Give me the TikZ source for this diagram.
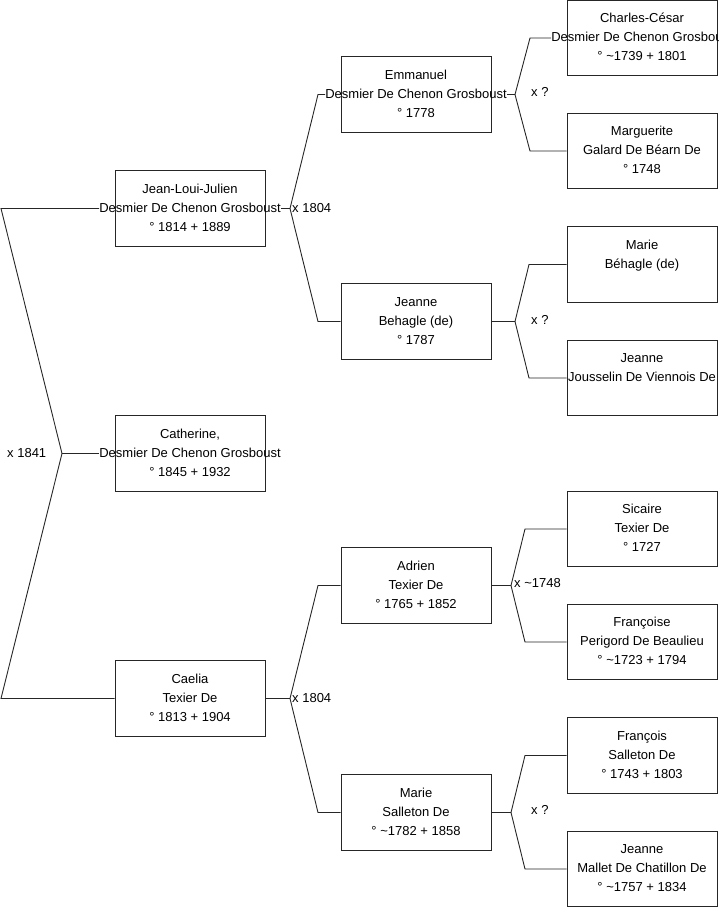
\documentclass[tikz,border=0pt]{standalone}
\usepackage{fontspec}
\setmainfont{Liberation Sans}
\begin{document}
\begin{tikzpicture}[x=1pt,y=-1pt,
  pbox/.style={draw=black!85,line width=0.9pt,minimum width=150pt,minimum height=75.5pt,inner sep=0pt},
  ptxt/.style={inner sep=0pt,align=center,font=\fontsize{13}{19}\selectfont},
  lbl/.style={inner sep=0pt,anchor=west,font=\fontsize{13}{16}\selectfont},
  conn/.style={draw=black!85,line width=0.9pt}]
\useasboundingbox (0,0) rectangle (719,908);
\clip (0,0) rectangle (719,908);
\newcommand{\pl}[3]{\strut #1\\\strut #2\\\strut #3}
% generation 1
\node[pbox] (jean) at (190,208.5) {};
\node[ptxt] (jean-t) at (jean) {\pl{Jean-Loui-Julien}{Desmier De Chenon Grosboust}{° 1814 + 1889}};
\node[pbox] (cath) at (190,453.5) {};
\node[ptxt] (cath-t) at (cath) {\pl{Catherine,}{Desmier De Chenon Grosboust}{° 1845 + 1932}};
\node[pbox] (cael) at (190,698.5) {};
\node[ptxt] (cael-t) at (cael) {\pl{Caelia}{Texier De}{° 1813 + 1904}};
% generation 2
\node[pbox] (emm) at (416,94.5) {};
\node[ptxt] (emm-t) at (emm) {\pl{Emmanuel}{Desmier De Chenon Grosboust}{° 1778}};
\node[pbox] (jea) at (416,321.5) {};
\node[ptxt] (jea-t) at (jea) {\pl{Jeanne}{Behagle (de)}{° 1787}};
\node[pbox] (adr) at (416,585.5) {};
\node[ptxt] (adr-t) at (adr) {\pl{Adrien}{Texier De}{° 1765 + 1852}};
\node[pbox] (mar) at (416,812.5) {};
\node[ptxt] (mar-t) at (mar) {\pl{Marie}{Salleton De}{° \textasciitilde1782 + 1858}};
% generation 3
\node[pbox] (cc) at (642,38) {};
\node[ptxt] (cc-t) at (cc) {\pl{Charles-César}{Desmier De Chenon Grosboust}{° \textasciitilde1739 + 1801}};
\node[pbox] (mg) at (642,151) {};
\node[ptxt] (mg-t) at (mg) {\pl{Marguerite}{Galard De Béarn De}{° 1748}};
\node[pbox] (mb) at (642,264.5) {};
\node[ptxt] (mb-t) at (mb) {\pl{Marie}{Béhagle (de)}{}};
\node[pbox] (jj) at (642,378) {};
\node[ptxt] (jj-t) at (jj) {\pl{Jeanne}{Jousselin De Viennois De}{}};
\node[pbox] (sic) at (642,529) {};
\node[ptxt] (sic-t) at (sic) {\pl{Sicaire}{Texier De}{° 1727}};
\node[pbox] (fre) at (642,642) {};
\node[ptxt] (fre-t) at (fre) {\pl{Françoise}{Perigord De Beaulieu}{° \textasciitilde1723 + 1794}};
\node[pbox] (fro) at (642,755.5) {};
\node[ptxt] (fro-t) at (fro) {\pl{François}{Salleton De}{° 1743 + 1803}};
\node[pbox] (jm) at (642,869) {};
\node[ptxt] (jm-t) at (jm) {\pl{Jeanne}{Mallet De Chatillon De}{° \textasciitilde1757 + 1834}};
% fork coordinates
\coordinate (f0t) at (1,208.5);
\coordinate (f0v) at (62,453.5);
\coordinate (f0b) at (1,698.5);
\coordinate (f1v) at (290,208.5);
\coordinate (f1t) at (318,94.5);
\coordinate (f1b) at (318,321.5);
\coordinate (f2v) at (290,698.5);
\coordinate (f2t) at (318,585.5);
\coordinate (f2b) at (318,812.5);
\coordinate (f3v) at (515,94.5);
\coordinate (f3t) at (530,38);
\coordinate (f3b) at (530,151);
\coordinate (f4v) at (515,321.5);
\coordinate (f4t) at (529,264.5);
\coordinate (f4b) at (529,378);
\coordinate (f5v) at (511,585.5);
\coordinate (f5t) at (525,529);
\coordinate (f5b) at (525,642);
\coordinate (f6v) at (511,812.5);
\coordinate (f6t) at (525,755.5);
\coordinate (f6b) at (525,869);
% connectors
\draw[conn] (jean-t.west) -- (f0t) -- (f0v) -- (f0b) -- (cael.west);
\draw[conn] (f0v) -- (cath-t.west);
\draw[conn] (jean-t.east) -- (f1v);
\draw[conn] (emm-t.west) -- (f1t) -- (f1v) -- (f1b) -- (jea.west);
\draw[conn] (cael.east) -- (f2v);
\draw[conn] (adr.west) -- (f2t) -- (f2v) -- (f2b) -- (mar.west);
\draw[conn] (emm-t.east) -- (f3v);
\draw[conn] (cc-t.west) -- (f3t) -- (f3v) -- (f3b) -- (mg.west);
\draw[conn] (jea.east) -- (f4v);
\draw[conn] (mb.west) -- (f4t) -- (f4v) -- (f4b) -- (jj.west);
\draw[conn] (adr.east) -- (f5v);
\draw[conn] (sic.west) -- (f5t) -- (f5v) -- (f5b) -- (fre.west);
\draw[conn] (mar.east) -- (f6v);
\draw[conn] (fro.west) -- (f6t) -- (f6v) -- (f6b) -- (jm.west);
% labels
\node[lbl] (l0) at (7,453) {x 1841};
\node[lbl] (l1) at (292,208) {x 1804};
\node[lbl] (l2) at (292,698) {x 1804};
\node[lbl] (l3) at (531,92) {x ?};
\node[lbl] (l4) at (531,320) {x ?};
\node[lbl] (l5) at (514,583) {x \textasciitilde1748};
\node[lbl] (l6) at (531,810) {x ?};
\end{tikzpicture}
\end{document}
